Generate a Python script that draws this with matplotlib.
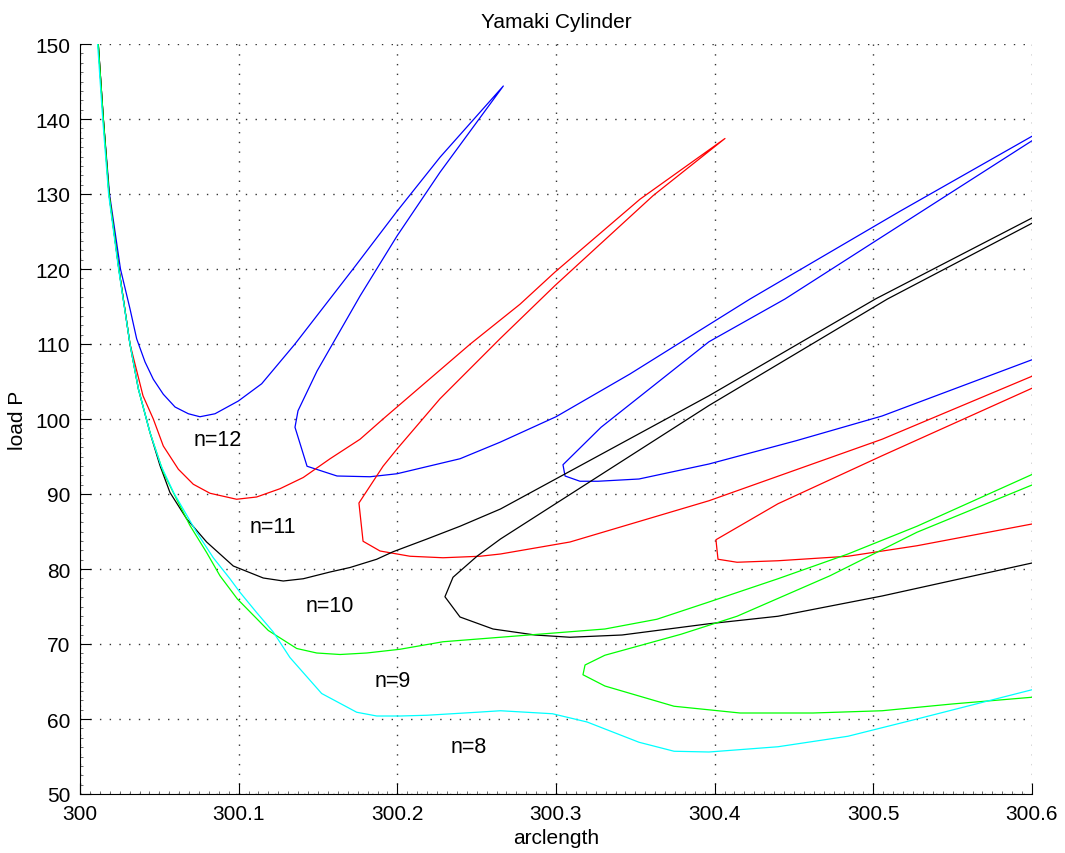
import matplotlib
matplotlib.use('Agg')
import matplotlib.pyplot as plt
from matplotlib.ticker import MultipleLocator, FormatStrFormatter

plt.rcParams['font.family'] = ['Liberation Sans', 'DejaVu Sans']
plt.rcParams['font.size'] = 15

# n = 12 (blue)
x12 = [300.0115, 300.0147, 300.0186, 300.0255, 300.0315, 300.0357, 300.0410, 300.0462,
       300.0525, 300.0599, 300.0683, 300.0756, 300.0851, 300.0998, 300.1145, 300.1355,
       300.1721, 300.1998, 300.2269, 300.2668,
       300.2269, 300.1998, 300.1765, 300.1494, 300.1374, 300.1355, 300.1431, 300.1620,
       300.1828, 300.1998, 300.2395, 300.2647, 300.3000, 300.3466, 300.4223, 300.5168,
       300.6000, 300.6200,
       300.6000, 300.4443, 300.3964, 300.3284, 300.3044, 300.3057, 300.3151, 300.3265,
       300.3523, 300.3964, 300.4513, 300.5055, 300.6000]
y12 = [150.0, 140.0, 130.0, 120.0, 114.7, 110.7, 107.6, 105.3,
       103.3, 101.6, 100.7, 100.3, 100.7, 102.4, 104.7, 110.0,
       120.0, 127.7, 134.9, 144.4,
       132.9, 124.4, 116.4, 106.4, 101.1, 98.9, 93.7, 92.4,
       92.3, 92.7, 94.7, 96.9, 100.3, 106.0, 116.0, 127.7,
       137.7, 140.0,
       137.1, 116.0, 110.3, 98.9, 93.9, 92.4, 91.7, 91.7,
       92.0, 94.0, 97.1, 100.4, 107.9]

# n = 11 (red)
x11 = [300.0115, 300.0147, 300.0183, 300.0245, 300.0315, 300.0397, 300.0462, 300.0525,
       300.0620, 300.0714, 300.0819, 300.0987, 300.1113, 300.1260, 300.1407, 300.1576,
       300.1765, 300.1910, 300.2460, 300.2773, 300.2994, 300.3529, 300.4065,
       300.3613, 300.2994, 300.2647, 300.2269, 300.1998, 300.1910, 300.1758, 300.1784,
       300.1891, 300.2080, 300.2288, 300.2521, 300.2650, 300.3088, 300.3964, 300.5055,
       300.6000, 300.6300,
       300.6000, 300.5055, 300.4399, 300.4008, 300.4021, 300.4141, 300.4399, 300.4840,
       300.5275, 300.6000]
y11 = [150.0, 140.0, 130.0, 120.0, 110.0, 103.1, 100.0, 96.4,
       93.3, 91.3, 90.1, 89.3, 89.6, 90.7, 92.2, 94.7,
       97.3, 100.0, 110.0, 115.3, 119.6, 129.3, 137.4,
       129.8, 117.8, 110.7, 102.7, 96.0, 93.7, 88.8, 83.7,
       82.4, 81.7, 81.5, 81.7, 82.0, 83.6, 89.1, 97.3,
       105.7, 109.0,
       104.1, 95.1, 88.7, 83.9, 81.3, 80.9, 81.1, 81.7,
       83.1, 86.0]

# n = 10 (black)
x10 = [300.0115, 300.0147, 300.0183, 300.0245, 300.0315, 300.0368, 300.0441, 300.0504,
       300.0567, 300.0672, 300.0798, 300.0966, 300.1155, 300.1281, 300.1407, 300.1576,
       300.1702, 300.1870, 300.1973, 300.2187, 300.2395, 300.2650, 300.3964, 300.5013,
       300.6000, 300.6300,
       300.6000, 300.5089, 300.3964, 300.2650, 300.2502, 300.2351, 300.2300, 300.2395,
       300.2603, 300.2868, 300.3088, 300.3416, 300.3964, 300.4399, 300.5055, 300.6000]
y10 = [150.0, 140.0, 130.0, 120.0, 110.0, 104.0, 98.2, 93.8,
       90.2, 86.7, 83.6, 80.4, 78.8, 78.4, 78.7, 79.6,
       80.2, 81.3, 82.3, 84.0, 85.7, 88.0, 103.1, 116.0,
       126.8, 130.0,
       126.1, 116.0, 101.8, 84.0, 81.7, 78.9, 76.3, 73.6,
       72.0, 71.2, 70.9, 71.2, 72.7, 73.7, 76.4, 80.8]

# n = 9 (green)
x9 = [300.0115, 300.0147, 300.0183, 300.0245, 300.0315, 300.0368, 300.0441, 300.0525,
      300.0588, 300.0693, 300.0798, 300.0882, 300.0992, 300.1187, 300.1366, 300.1492,
      300.1639, 300.1807, 300.2017, 300.2288, 300.2650, 300.3308, 300.3636, 300.3964,
      300.4399, 300.4840, 300.5275, 300.6000, 300.6300,
      300.6000, 300.5275, 300.4727, 300.4141, 300.3788, 300.3308, 300.3183, 300.3170,
      300.3308, 300.3744, 300.4160, 300.4620, 300.5055, 300.5496, 300.6000]
y9 = [150.0, 140.0, 130.0, 120.0, 110.0, 104.0, 98.2, 92.9,
      90.2, 85.8, 82.2, 79.1, 76.0, 71.8, 69.4, 68.8,
      68.6, 68.8, 69.3, 70.3, 70.9, 72.0, 73.3, 75.6,
      78.7, 82.0, 85.7, 92.6, 95.0,
      91.2, 84.9, 79.1, 73.7, 71.3, 68.5, 67.2, 65.9,
      64.4, 61.7, 60.8, 60.8, 61.1, 62.0, 62.9]

# n = 8 (cyan)
x8 = [300.0111, 300.0143, 300.0180, 300.0243, 300.0315, 300.0368, 300.0441, 300.0510,
      300.0590, 300.0735, 300.0840, 300.0945, 300.1008, 300.1113, 300.1218, 300.1323,
      300.1523, 300.1744, 300.1870, 300.2017, 300.2187, 300.2502, 300.2650, 300.2978,
      300.3196, 300.3523, 300.3744, 300.3964, 300.4399, 300.4840, 300.5275, 300.6000]
y8 = [150.0, 140.0, 130.0, 120.0, 110.0, 104.0, 98.2, 93.8,
      90.2, 84.9, 81.5, 78.7, 76.9, 74.2, 71.6, 68.2,
      63.4, 60.9, 60.4, 60.4, 60.5, 60.9, 61.1, 60.7,
      59.6, 56.9, 55.7, 55.6, 56.3, 57.7, 60.0, 63.9]

labels = ['n=12', 'n=11', 'n=10', 'n=9', 'n=8']
label_x = [300.0870, 300.1216, 300.1576, 300.1973, 300.2452]
label_y = [97.2, 85.7, 75.1, 65.1, 56.3]

fig = plt.figure(figsize=(10.65, 8.54), dpi=100)
ax = fig.add_axes([80/1065, 1 - 795/854, 952/1065, 750/854])

ax.plot(x12, y12, color='#0000ff', lw=0.9)
ax.plot(x11, y11, color='#ff0000', lw=0.9)
ax.plot(x10, y10, color='#000000', lw=0.9)
ax.plot(x9, y9, color='#00ff00', lw=0.9)
ax.plot(x8, y8, color='#00ffff', lw=0.9)

for t, tx, ty in zip(labels, label_x, label_y):
    ax.text(tx, ty, t, ha='center', va='center', fontsize=15.5)

ax.set_xlim(300, 300.6)
ax.set_ylim(50, 150)
ax.xaxis.set_major_locator(MultipleLocator(0.1))
ax.xaxis.set_minor_locator(MultipleLocator(0.1 / 16))
ax.yaxis.set_major_locator(MultipleLocator(10))
ax.yaxis.set_minor_locator(MultipleLocator(1.25))
ax.xaxis.set_major_formatter(FormatStrFormatter('%g'))

ax.spines['top'].set_visible(False)
ax.spines['right'].set_visible(False)
ax.tick_params(which='major', direction='in', length=8, width=0.8, pad=7)
ax.tick_params(which='minor', direction='in', length=2.5, width=0.6, color='#555555')
ax.grid(True, which='major', color='#333333', linestyle=(0, (1, 6)), linewidth=1.0)

ax.set_title('Yamaki Cylinder', fontsize=15, pad=12)
ax.set_xlabel('arclength', labelpad=4)
ax.set_ylabel('load P', labelpad=6)

fig.savefig('out.png', dpi=100)
